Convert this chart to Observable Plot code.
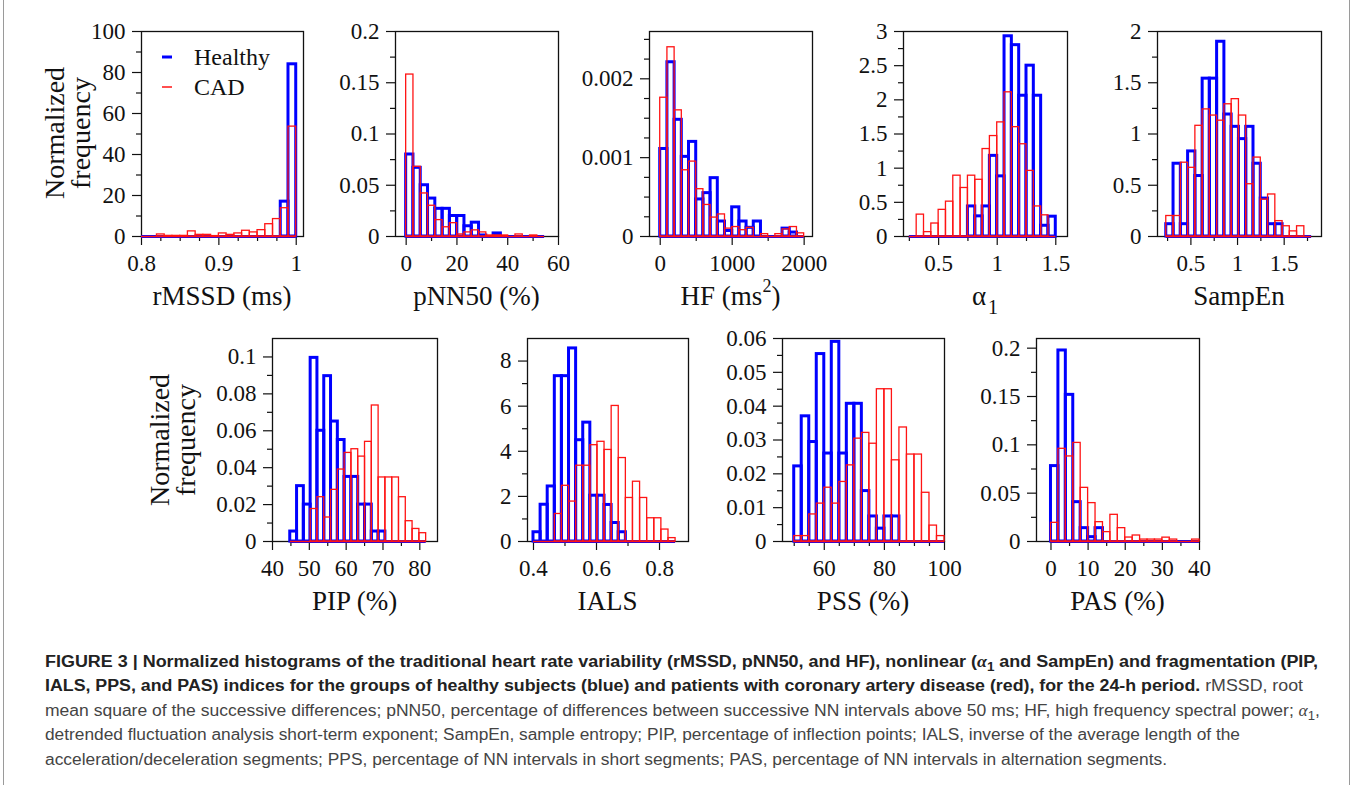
<!DOCTYPE html>
<html>
<head>
<meta charset="utf-8">
<script src="https://cdn.jsdelivr.net/npm/d3@7"></script>
<script src="https://cdn.jsdelivr.net/npm/@observablehq/plot@0.6"></script>
<style>
  html, body { margin: 0; padding: 0; background: #fff; }
  #fig { position: relative; width: 1357px; height: 785px; overflow: hidden; background: #fff; }
  #fig svg { position: absolute; }
</style>
</head>
<body>
<div id="fig"></div>
<script>
// ---------------- DATA ----------------
const seriesNames = ["Healthy", "CAD"];

// rMSSD
const rmssdEdges = [0.80,0.81,0.82,0.83,0.84,0.85,0.86,0.87,0.88,0.89,0.90,0.91,0.92,0.93,0.94,0.95,0.96,0.97,0.98,0.99,1.00];
const rmssdHealthy = [0,0,0,0,0,0,0,0,0,0,0,0,0,0,0,0,0,0,17,84];
const rmssdCAD = [0,0,1,0.3,0.3,0.3,2.5,0.8,0.8,0.2,1.5,0.8,1.5,2.8,2,3.1,6,8.5,13.8,53.6];
const rmssdXTicks = [0.8,0.9,1], rmssdXMinor = [0.825,0.85,0.875,0.925,0.95,0.975];
const rmssdYTicks = [0,20,40,60,80,100], rmssdYMinor = [10,30,50,70,90];

// pNN50
const pnnEdges = [0,2.87,5.74,8.61,11.48,14.35,17.22,20.09,22.96,25.83,28.7,31.57,34.44,37.31,40.18,43.05,45.92,48.79,51.66,54.53];
const pnnHealthy = [0.080,0.067,0.050,0.037,0.027,0.027,0.020,0.020,0.010,0.0135,0.001,0,0.003,0,0,0,0,0,0];
const pnnCAD = [0.158,0.068,0.042,0.030,0.016,0.009,0.013,0.002,0.004,0.006,0.004,0.001,0.001,0.001,0,0.002,0,0.001,0];
const pnnXTicks = [0,20,40,60], pnnXMinor = [10,30,50];
const pnnYTicks = [0,0.05,0.1,0.15,0.2], pnnYMinor = [0.025,0.075,0.125,0.175];

// HF
const hfEdges = [0,100,200,300,400,500,600,700,800,900,1000,1100,1200,1300,1400,1500,1600,1700,1800,1900,2000];
const hfHealthy = [0.00111,0.00221,0.00148,0.00101,0.0012,0.00047,0.00055,0.00074,0.00019,0.00007,0.00037,0.00019,0.00011,0.00019,0,0,0,0.0001,0.00005,0];
const hfCAD = [0.00176,0.0024,0.0016,0.00084,0.00095,0.0006,0.0004,0.00024,0.00028,0.0001,0.00012,0.00008,0.00011,0,0.00003,0,0.00003,0.00009,0.00012,0.00004];
const hfXTicks = [0,1000,2000], hfXMinor = [500,1500];
const hfYTicks = [0,0.001,0.002], hfYMinor = [0.00025,0.0005,0.00075,0.00125,0.0015,0.00175,0.00225,0.0025];

// alpha1
const a1Edges = [0.25,0.3125,0.375,0.4375,0.5,0.5625,0.625,0.6875,0.75,0.8125,0.875,0.9375,1,1.0625,1.125,1.1875,1.25,1.3125,1.375,1.4375,1.5];
const a1Healthy = [0,0,0,0,0,0,0,0,0.44,0.295,0.44,1.18,0.88,2.93,2.8,2.06,2.5,2.06,0.157,0.29];
const a1CAD = [0,0.32,0.064,0.19,0.39,0.51,0.89,0.71,0.89,0.83,1.28,1.47,1.67,2.11,1.6,1.35,0.96,0.44,0.31,0];
const a1XTicks = [0.5,1,1.5], a1XMinor = [0.25,0.75,1.25];
const a1YTicks = [0,0.5,1,1.5,2,2.5,3], a1YMinor = [0.25,0.75,1.25,1.75,2.25,2.75];

// SampEn
const seEdges = [0.236,0.314,0.392,0.470,0.548,0.626,0.703,0.781,0.859,0.937,1.015,1.093,1.171,1.249,1.327,1.405,1.483,1.560,1.638,1.716,1.794];
const seHealthy = [0.12,0.71,0.12,0.83,0.59,1.54,1.54,1.9,1.19,1.07,0.95,1.07,0.71,0.37,0.12,0.12,0,0,0,0];
const seCAD = [0.2,0.2,0.72,0.67,1.08,1.24,1.18,1.13,1.29,1.34,1.18,0.51,0.77,0.36,0.41,0.15,0.1,0.05,0.1,0];
const seXTicks = [0.5,1,1.5], seXMinor = [0.25,0.75,1.25,1.75];
const seYTicks = [0,0.5,1,1.5,2], seYMinor = [0.25,0.75,1.25,1.75];

// PIP
const pipEdges = [44.82,46.67,48.51,50.36,52.20,54.05,55.89,57.74,59.58,61.43,63.27,65.12,66.96,68.81,70.65,72.50,74.34,76.19,78.03,79.88,81.72];
const pipHealthy = [0.0054,0.030,0.020,0.0995,0.060,0.0896,0.065,0.055,0.035,0.035,0.020,0.020,0.0054,0.0054,0,0,0,0,0,0];
const pipCAD = [0,0,0,0.0176,0.024,0.013,0.028,0.039,0.048,0.050,0.046,0.054,0.0737,0.0347,0.0347,0.0347,0.024,0.011,0.0068,0.0045];
const pipXTicks = [40,50,60,70,80], pipXMinor = [45,55,65,75];
const pipYTicks = [0,0.02,0.04,0.06,0.08,0.1], pipYMinor = [0.01,0.03,0.05,0.07,0.09];

// IALS
const ialsEdges = [0.4,0.4226,0.4451,0.4677,0.4902,0.5128,0.5353,0.5579,0.5804,0.6030,0.6255,0.6481,0.6706,0.6932,0.7157,0.7383,0.7608,0.7834,0.8059,0.8285,0.851];
const ialsHealthy = [0.41,1.63,2.44,7.33,7.33,8.56,4.49,5.27,2.03,2.03,1.62,0.82,0.41,0,0,0,0,0,0,0];
const ialsCAD = [0,0,0,1.22,2.47,1.77,3.36,3.36,4.27,4.42,4.06,6.01,3.7,1.93,2.65,1.93,1.03,1.03,0.53,0.15];
const ialsXTicks = [0.4,0.6,0.8], ialsXMinor = [0.5,0.7];
const ialsYTicks = [0,2,4,6,8], ialsYMinor = [1,3,5,7];

// PSS
const pssEdges = [50,52.5,55,57.5,60,62.5,65,67.5,70,72.5,75,77.5,80,82.5,85,87.5,90,92.5,95,97.5,100];
const pssHealthy = [0.0222,0.037,0.0294,0.0554,0.026,0.059,0.026,0.0407,0.0407,0.0149,0.0074,0.0038,0.0074,0.0074,0,0,0,0,0,0];
const pssCAD = [0.0016,0.0016,0.008,0.0112,0.0159,0.0112,0.0176,0.0225,0.0304,0.0321,0.0289,0.045,0.045,0.024,0.0337,0.0257,0.0257,0.0144,0.0047,0.0016];
const pssXTicks = [60,80,100], pssXMinor = [50,55,65,70,75,85,90,95];
const pssYTicks = [0,0.01,0.02,0.03,0.04,0.05,0.06], pssYMinor = [0.005,0.015,0.025,0.035,0.045,0.055];

// PAS
const pasEdges = [0,2,4,6,8,10,12,14,16,18,20,22,24,26,28,30,32,34,36,38,40];
const pasHealthy = [0.078,0.1976,0.1517,0.0407,0.0138,0.0045,0.0138,0,0,0,0,0,0,0,0,0,0,0,0,0];
const pasCAD = [0.0193,0.0959,0.088,0.102,0.0555,0.0397,0.02,0.0097,0.0276,0.0138,0.0041,0.0062,0.002,0.002,0.002,0.004,0.002,0,0,0.002];
const pasXTicks = [0,10,20,30,40], pasXMinor = [5,15,25,35];
const pasYTicks = [0,0.05,0.1,0.15,0.2], pasYMinor = [0.025,0.075,0.125,0.175];

// ---------------- STYLE ----------------
const BLUE = "#0000ff", RED = "#ff1414";
const SERIF = "'Liberation Serif','Times New Roman',Times,serif";
const SANS = "'Liberation Sans',Arial,Helvetica,sans-serif";
const fig = document.getElementById("fig");

function panel(cfg) {
  const mL = 80, mR = 14, mT = 14, mB = 95;
  const [fx1, fy1, fx2, fy2] = cfg.frame;
  const w = fx2 - fx1, h = fy2 - fy1;
  const bins = vals => vals.map((v, i) => ({a: cfg.edges[i], b: cfg.edges[i + 1], z: 0, v}));
  const base = [{y: 0, a: cfg.edges[0], b: cfg.edges[cfg.edges.length - 1]}];
  const fmt = d => String(d);
  const blank = () => "";
  const svg = Plot.plot({
    width: w + mL + mR, height: h + mT + mB,
    marginLeft: mL, marginRight: mR, marginTop: mT, marginBottom: mB,
    x: {domain: cfg.xDomain},
    y: {domain: cfg.yDomain},
    style: {fontFamily: SERIF, fontSize: "23px", color: "#111", background: "none", overflow: "visible"},
    marks: [
      Plot.axisX({ticks: cfg.xMinor, tickSize: 5, tickFormat: blank, label: null, strokeWidth: 1.2}),
      Plot.axisX({ticks: cfg.xTicks, tickSize: 9, tickPadding: 9, tickFormat: fmt, label: null, fontSize: 23, strokeWidth: 1.2}),
      Plot.axisY({ticks: cfg.yMinor, tickSize: 5, tickFormat: blank, label: null, strokeWidth: 1.2}),
      Plot.axisY({ticks: cfg.yTicks, tickSize: 9, tickPadding: 7, tickFormat: fmt, label: null, fontSize: 23, strokeWidth: 1.2}),
      Plot.frame({stroke: "#111", strokeWidth: 1.3}),
      Plot.ruleY(base, {y: "y", x1: "a", x2: "b", stroke: BLUE, strokeWidth: 3}),
      Plot.rect(bins(cfg.healthy).filter(d => d.v > 0), {x1: "a", x2: "b", y1: "z", y2: "v", fill: "none", stroke: BLUE, strokeWidth: 3}),
      Plot.ruleY(base, {y: "y", x1: "a", x2: "b", stroke: RED, strokeWidth: 1.3}),
      Plot.rect(bins(cfg.cad).filter(d => d.v > 0), {x1: "a", x2: "b", y1: "z", y2: "v", fill: "none", stroke: RED, strokeWidth: 1.3})
    ]
  });
  svg.style.left = (fx1 - mL) + "px";
  svg.style.top = (fy1 - mT) + "px";
  const t = d3.select(svg).append("text")
    .attr("x", mL + w / 2).attr("y", mT + h + 69)
    .attr("text-anchor", "middle")
    .style("font-family", SERIF).style("font-size", "27px").style("fill", "#111");
  cfg.title(t);
  fig.appendChild(svg);
  return svg;
}

const plain = s => t => t.text(s);

panel({frame: [141, 31, 303, 236], xDomain: [0.8, 1.0094], yDomain: [0, 100],
  edges: rmssdEdges, healthy: rmssdHealthy, cad: rmssdCAD,
  xTicks: rmssdXTicks, xMinor: rmssdXMinor, yTicks: rmssdYTicks, yMinor: rmssdYMinor,
  title: plain("rMSSD (ms)")});
panel({frame: [395, 31, 558, 236], xDomain: [-4.2, 60], yDomain: [0, 0.2],
  edges: pnnEdges, healthy: pnnHealthy, cad: pnnCAD,
  xTicks: pnnXTicks, xMinor: pnnXMinor, yTicks: pnnYTicks, yMinor: pnnYMinor,
  title: plain("pNN50 (%)")});
panel({frame: [649, 31, 812, 236], xDomain: [-149, 2116], yDomain: [0, 0.0026],
  edges: hfEdges, healthy: hfHealthy, cad: hfCAD,
  xTicks: hfXTicks, xMinor: hfXMinor, yTicks: hfYTicks, yMinor: hfYMinor,
  title: t => { t.append("tspan").text("HF (ms");
                t.append("tspan").attr("dy", -13).style("font-size", "18px").text("2");
                t.append("tspan").attr("dy", 13).text(")"); }});
panel({frame: [903, 31, 1067, 236], xDomain: [0.2, 1.6], yDomain: [0, 3],
  edges: a1Edges, healthy: a1Healthy, cad: a1CAD,
  xTicks: a1XTicks, xMinor: a1XMinor, yTicks: a1YTicks, yMinor: a1YMinor,
  title: t => { t.append("tspan").text("α");
                t.append("tspan").attr("dy", 9).attr("dx", 2).style("font-size", "20px").text("1"); }});
panel({frame: [1157, 31, 1321, 236], xDomain: [0.142, 1.9], yDomain: [0, 2],
  edges: seEdges, healthy: seHealthy, cad: seCAD,
  xTicks: seXTicks, xMinor: seXMinor, yTicks: seYTicks, yMinor: seYMinor,
  title: plain("SampEn")});
panel({frame: [272, 338, 437, 541], xDomain: [40, 84.8], yDomain: [0, 0.11],
  edges: pipEdges, healthy: pipHealthy, cad: pipCAD,
  xTicks: pipXTicks, xMinor: pipXMinor, yTicks: pipYTicks, yMinor: pipYMinor,
  title: plain("PIP (%)")});
panel({frame: [527, 338, 688, 541], xDomain: [0.381, 0.892], yDomain: [0, 9],
  edges: ialsEdges, healthy: ialsHealthy, cad: ialsCAD,
  xTicks: ialsXTicks, xMinor: ialsXMinor, yTicks: ialsYTicks, yMinor: ialsYMinor,
  title: plain("IALS")});
panel({frame: [782, 338, 944, 541], xDomain: [46.1, 100], yDomain: [0, 0.06],
  edges: pssEdges, healthy: pssHealthy, cad: pssCAD,
  xTicks: pssXTicks, xMinor: pssXMinor, yTicks: pssYTicks, yMinor: pssYMinor,
  title: plain("PSS (%)")});
panel({frame: [1036, 338, 1199, 541], xDomain: [-3.9, 40], yDomain: [0, 0.21],
  edges: pasEdges, healthy: pasHealthy, cad: pasCAD,
  xTicks: pasXTicks, xMinor: pasXMinor, yTicks: pasYTicks, yMinor: pasYMinor,
  title: plain("PAS (%)")});

// ---------------- OVERLAY: labels, legend, caption ----------------
const ov = d3.select(fig).append("svg")
  .attr("width", 1357).attr("height", 785)
  .style("left", "0px").style("top", "0px").style("pointer-events", "none");

// figure border
ov.append("line").attr("x1", 3.5).attr("x2", 3.5).attr("y1", 0).attr("y2", 785).attr("stroke", "#9a9a9a");
ov.append("line").attr("x1", 1349.5).attr("x2", 1349.5).attr("y1", 0).attr("y2", 785).attr("stroke", "#9a9a9a");

// y-axis titles
function yTitle(cx, cy) {
  const g = ov.append("g").attr("transform", `translate(${cx},${cy}) rotate(-90)`)
    .style("font-family", SERIF).style("font-size", "28px").style("fill", "#111");
  g.append("text").attr("text-anchor", "middle").attr("y", -13).text("Normalized");
  g.append("text").attr("text-anchor", "middle").attr("y", 13).text("frequency");
}
yTitle(77, 133);
yTitle(182, 440);

// legend (in rMSSD panel)
const legend = [
  {name: seriesNames[0], color: BLUE, sw: 3, y: 57},
  {name: seriesNames[1], color: RED, sw: 1.5, y: 87}
];
legend.forEach(d => {
  ov.append("line").attr("x1", 162).attr("x2", 172).attr("y1", d.y).attr("y2", d.y)
    .attr("stroke", d.color).attr("stroke-width", d.sw);
  ov.append("text").attr("x", 194).attr("y", d.y + 8)
    .style("font-family", SERIF).style("font-size", "24px").style("fill", "#111").text(d.name);
});

// caption
const capX = 45;
const capLines = [
  {y: 667, end: 1318, parts: [
    {b: true, t: "FIGURE 3 | Normalized histograms of the traditional heart rate variability (rMSSD, pNN50, and HF), nonlinear ("},
    {b: true, t: "α", i: true}, {b: true, t: "1", sub: true},
    {b: true, t: " and SampEn) and fragmentation (PIP,"}]},
  {y: 691, end: 1303, parts: [
    {b: true, t: "IALS, PPS, and PAS) indices for the groups of healthy subjects (blue) and patients with coronary artery disease (red), for the 24-h period."},
    {b: false, t: " rMSSD, root"}]},
  {y: 716, end: 1320, parts: [
    {b: false, t: "mean square of the successive differences; pNN50, percentage of differences between successive NN intervals above 50 ms; HF, high frequency spectral power; "},
    {b: false, t: "α", i: true}, {b: false, t: "1", sub: true}, {b: false, t: ",", unsub: true}]},
  {y: 740, end: 1240, parts: [
    {b: false, t: "detrended fluctuation analysis short-term exponent; SampEn, sample entropy; PIP, percentage of inflection points; IALS, inverse of the average length of the"}]},
  {y: 765, end: 1167, parts: [
    {b: false, t: "acceleration/deceleration segments; PPS, percentage of NN intervals in short segments; PAS, percentage of NN intervals in alternation segments."}]}
];
capLines.forEach(line => {
  const tx = ov.append("text").attr("x", capX).attr("y", line.y)
    .attr("textLength", line.end - capX).attr("lengthAdjust", "spacingAndGlyphs")
    .style("font-family", SANS).style("font-size", "16px");
  let shifted = false;
  line.parts.forEach(p => {
    const ts = tx.append("tspan").text(p.t)
      .style("font-weight", p.b ? "700" : "400")
      .style("fill", p.b ? "#222" : "#444");
    if (p.i) ts.style("font-style", "italic").style("font-family", SERIF);
    if (p.sub) { ts.attr("dy", 4).style("font-size", "12px"); shifted = true; }
    else if (shifted) { ts.attr("dy", -4); shifted = false; }
  });
});
</script>
</body>
</html>
